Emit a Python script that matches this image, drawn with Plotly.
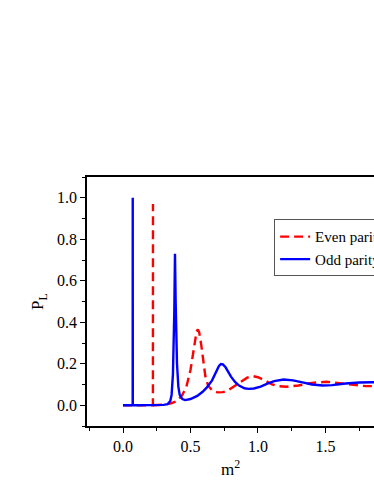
import plotly.graph_objects as go

# Curva de paridade par (tracejada vermelha); None separa o pico estreito
even_x = [0.0, 0.2215, 0.222, None, 0.2225, 0.23, 0.30, 0.35, 0.40, 0.44, 0.47, 0.50,
          0.52, 0.535, 0.545, 0.555, 0.565, 0.58, 0.595, 0.61, 0.63, 0.66, 0.70, 0.74,
          0.78, 0.82, 0.87, 0.92, 0.965, 1.00, 1.05, 1.10, 1.15, 1.21, 1.30, 1.40,
          1.51, 1.60, 1.70, 1.80, 1.90]
even_y = [0.0, 0.0, 0.97, None, 0.0, 0.0, 0.003, 0.008, 0.02, 0.05, 0.09, 0.17,
          0.25, 0.32, 0.355, 0.365, 0.35, 0.29, 0.21, 0.14, 0.095, 0.072, 0.062, 0.063,
          0.072, 0.09, 0.113, 0.133, 0.14, 0.135, 0.12, 0.102, 0.092, 0.089, 0.095, 0.108,
          0.113, 0.107, 0.097, 0.092, 0.092]

# Curva de paridade ímpar (linha azul)
odd_x = [0.0, 0.0715, 0.072, 0.0725, 0.10, 0.20, 0.30, 0.33, 0.35, 0.36, 0.37, 0.38,
         0.385, 0.39, 0.40, 0.41, 0.42, 0.44, 0.46, 0.50, 0.55, 0.59, 0.62, 0.66,
         0.69, 0.71, 0.725, 0.74, 0.76, 0.78, 0.80, 0.83, 0.86, 0.90, 0.93, 0.97,
         1.02, 1.07, 1.12, 1.19, 1.26, 1.33, 1.40, 1.48, 1.55, 1.65, 1.75, 1.85, 1.95]
odd_y = [0.0, 0.0, 1.0, 0.0, 0.0, 0.0, 0.002, 0.005, 0.02, 0.05, 0.15, 0.45,
         0.73, 0.5, 0.2, 0.09, 0.05, 0.03, 0.025, 0.03, 0.045, 0.065, 0.085, 0.12,
         0.16, 0.188, 0.199, 0.197, 0.183, 0.16, 0.138, 0.112, 0.095, 0.082, 0.079, 0.081,
         0.09, 0.104, 0.116, 0.124, 0.12, 0.11, 0.1, 0.095, 0.097, 0.105, 0.11, 0.111, 0.11]

fig = go.Figure()
fig.add_trace(go.Scatter(x=even_x, y=even_y, mode="lines", name="Even parity",
                         connectgaps=False,
                         line=dict(color="#ff0000", width=2.4, dash="9px,5px")))
fig.add_trace(go.Scatter(x=odd_x, y=odd_y, mode="lines", name="Odd parity",
                         line=dict(color="#0000ff", width=2.4)))

serif = "Liberation Serif"

fig.update_layout(
    width=374, height=484,
    margin=dict(l=87, r=0, t=177, b=58, autoexpand=False),
    paper_bgcolor="white", plot_bgcolor="white",
    font=dict(family=serif, size=16, color="black"),
    showlegend=True,
    legend=dict(x=0.652, y=0.83, xanchor="left", yanchor="top",
                bordercolor="#555", borderwidth=1, bgcolor="white",
                font=dict(family=serif, size=15),
                tracegroupgap=0, itemwidth=30),
    xaxis=dict(range=[-0.267, 1.86], tickvals=[0.0, 0.5, 1.0, 1.5],
               ticktext=["0.0", "0.5", "1.0", "1.5"],
               showline=True, linecolor="black", linewidth=1.5, mirror=True,
               ticks="outside", ticklen=5, tickwidth=1.2, tickcolor="black",
               minor=dict(ticks="outside", ticklen=3, dtick=0.25, tick0=0, tickcolor="black"),
               showgrid=False, zeroline=False,
               title=dict(text="m<sup>2</sup>", font=dict(family=serif, size=17), standoff=9)),
    yaxis=dict(range=[-0.1, 1.1], tickvals=[0.0, 0.2, 0.4, 0.6, 0.8, 1.0],
               ticktext=["0.0", "0.2", "0.4", "0.6", "0.8", "1.0"],
               showline=True, linecolor="black", linewidth=1.5,
               ticks="outside", ticklen=5, tickwidth=1.2, tickcolor="black",
               minor=dict(ticks="outside", ticklen=3, dtick=0.1, tick0=0, tickcolor="black"),
               showgrid=False, zeroline=False,
               title=dict(text="P<sub>L</sub>", font=dict(family=serif, size=17), standoff=9)),
)

# tira a margem padrão do body para a figura ocupar a janela inteira
fig.write_html("out.html", config={"displayModeBar": False},
               post_script="document.body.style.margin='0';document.body.style.overflow='hidden';")
